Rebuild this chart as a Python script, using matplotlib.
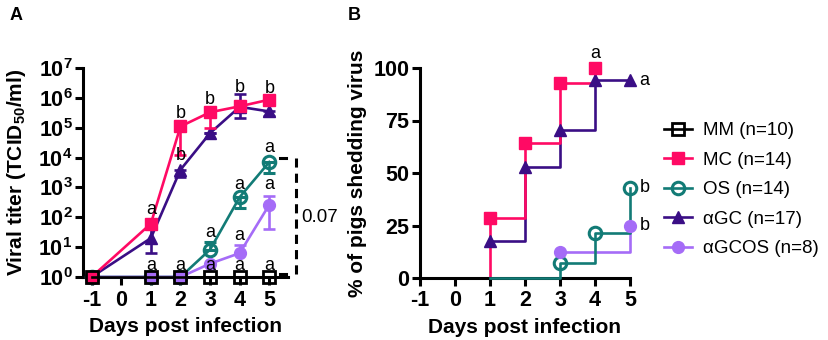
import matplotlib
matplotlib.use("Agg")
import matplotlib.pyplot as plt
from matplotlib.lines import Line2D
import numpy as np

plt.rcParams['font.family'] = ['Liberation Sans', 'DejaVu Sans']
plt.rcParams['mathtext.fontset'] = 'custom'
plt.rcParams['mathtext.rm'] = 'Liberation Sans'
plt.rcParams['mathtext.bf'] = 'Liberation Sans:bold'

# ---------------- data: panel A (viral titer) ----------------
days_a = [-1, 1, 2, 3, 4, 5]
mm_titer = [1, 1, 1, 1, 1, 1]
mc_titer = [1, 61, 1.1e5, 3.3e5, 5.2e5, 8.7e5]
mc_lo = [1, 61, 1.25e4, 1.0e5, 5.2e5, 8.7e5]
mc_hi = [1, 61, 1.1e5, 3.3e5, 5.2e5, 8.7e5]
agc_titer = [1, 20, 3900, 6.6e4, 5.0e5, 3.5e5]
agc_lo = [1, 6.3, 2300, 6.6e4, 2.1e5, 2.4e5]
agc_hi = [1, 40, 3900, 6.6e4, 1.35e6, 3.5e5]
os_titer = [1, 1, 1, 8.3, 475, 7100]
os_lo = [1, 1, 1, 8.3, 200, 3000]
os_hi = [1, 1, 1, 14.5, 475, 7100]
agcos_titer = [1, 1, 1, 2.8, 6.3, 265]
agcos_lo = [1, 1, 1, 2.8, 6.3, 40]
agcos_hi = [1, 1, 1, 2.8, 12, 520]

letters_a = ['a', 'b', 'b', 'b', 'b', 'b', 'a', 'a', 'a', 'a', 'a',
             'a', 'a', 'a', 'a', 'a']
letters_a_day = [1, 2, 2, 3, 4, 5, 3, 4, 4, 5, 5, 1, 2, 3, 4, 5]
letters_a_val = [180, 3.0e5, 1.2e4, 9.0e5, 2.2e6, 2.1e6, 30, 1300, 25, 2.2e4, 1300,
                 2.5, 2.5, 2.5, 2.5, 2.5]
p_value = '0.07'

# ---------------- data: panel B (% shedding) ----------------
mc_days_b = [0, 1, 2, 3, 4]
mc_pct = [0, 28.6, 64.3, 92.9, 100]
agc_days_b = [1, 2, 3, 4, 5]
agc_pct = [17.6, 52.9, 70.6, 94.1, 94.1]
os_days_b = [1, 3, 4, 5]
os_pct = [0, 7.1, 21.4, 42.9]
agcos_days_b = [3, 4, 5]
agcos_pct = [12.5, 12.5, 25]

letters_b = ['a', 'a', 'b', 'b']
letters_b_day = [4, 5, 5, 5]
letters_b_val = [107, 94.1, 42.9, 25]

labels = ['MM (n=10)', 'MC (n=14)', 'OS (n=14)', 'αGC (n=17)', 'αGCOS (n=8)']

# ---------------- style ----------------
C_MM = 'black'
C_MC = '#FF0A64'
C_OS = '#127B76'
C_AGC = '#3A0E85'
C_AGCOS = '#A56CF7'
LW = 1.9
SPW = 2.2
TICK_FS = 15.5
LABEL_FS = 15

fig = plt.figure(figsize=(8.29, 3.4), dpi=100)
axA = fig.add_axes([83/829, 63/340, 205/829, 209/340])
axB = fig.add_axes([420/829, 62/340, 210/829, 210/340])

for ax in (axA, axB):
    ax.spines['top'].set_visible(False)
    ax.spines['right'].set_visible(False)
    ax.spines['left'].set_linewidth(SPW)
    ax.spines['bottom'].set_linewidth(SPW)
    ax.tick_params(axis='both', which='major', length=6, width=SPW,
                   labelsize=TICK_FS, pad=1.5)
    ax.tick_params(axis='x', which='major', pad=3)
    ax.tick_params(axis='both', which='minor', length=0)


def yerr(v, lo, hi):
    v = np.array(v, float)
    return [v - np.array(lo, float), np.array(hi, float) - v]


# ---- Panel A ----
axA.set_yscale('log')
common = dict(lw=LW, capsize=4, elinewidth=LW, capthick=LW, clip_on=False)
axA.errorbar(days_a, os_titer, yerr=yerr(os_titer, os_lo, os_hi), color=C_OS,
             marker='o', ms=9, mfc='none', mew=2.2, zorder=3, **common)
axA.errorbar(days_a, agcos_titer, yerr=yerr(agcos_titer, agcos_lo, agcos_hi),
             color=C_AGCOS, marker='o', ms=8.5, zorder=3, **common)
axA.errorbar(days_a, agc_titer, yerr=yerr(agc_titer, agc_lo, agc_hi), color=C_AGC,
             marker='^', ms=8.5, zorder=4, **common)
axA.errorbar(days_a, mc_titer, yerr=yerr(mc_titer, mc_lo, mc_hi), color=C_MC,
             marker='s', ms=9, zorder=5, **common)
axA.plot(days_a, mm_titer, color=C_MM, lw=LW, marker='s', ms=9, mfc='none',
         mew=2.0, zorder=6, clip_on=False)

axA.set_ylim(1, 1e7)
axA.set_xlim(-1.29, 5.63)
axA.set_yticks([10.0**k for k in range(8)])
axA.set_yticklabels([r'$\mathbf{10^{%d}}$' % k for k in range(8)])
axA.set_xticks([-1, 0, 1, 2, 3, 4, 5])
axA.set_xticklabels(['-1', '0', '1', '2', '3', '4', '5'], fontweight='bold')
axA.set_xlabel('Days post infection', fontsize=LABEL_FS, fontweight='bold',
               labelpad=5)
axA.set_ylabel(r'Viral titer (TCID$_{\mathbf{50}}$/ml)', fontsize=LABEL_FS,
               fontweight='bold', labelpad=7)

for t, d, v in zip(letters_a, letters_a_day, letters_a_val):
    axA.text(d, v, t, ha='center', va='center', fontsize=13, zorder=7)

# significance bracket
axA.plot([5.9, 5.9], [1.26, 9500], color='black', lw=SPW, ls=(0, (3, 2)),
         clip_on=False)
axA.plot([5.36, 5.56], [9500, 9500], color='black', lw=SPW, clip_on=False)
axA.plot([5.36, 5.56], [1.26, 1.26], color='black', lw=SPW, clip_on=False)
axA.text(6.07, 100, p_value, ha='left', va='center', fontsize=13.5)

# ---- Panel B ----
axB.plot(os_days_b, os_pct, drawstyle='steps-post', color=C_OS, lw=LW, zorder=3,
         clip_on=False)
axB.plot(os_days_b[1:], os_pct[1:], ls='none', marker='o', ms=9, mfc='none',
         mec=C_OS, mew=2.2, zorder=4, clip_on=False)
axB.plot(agcos_days_b, agcos_pct, drawstyle='steps-post', color=C_AGCOS, lw=LW,
         zorder=2, clip_on=False)
axB.plot([agcos_days_b[0], agcos_days_b[-1]], [agcos_pct[0], agcos_pct[-1]],
         ls='none', marker='o', ms=8.5, color=C_AGCOS, zorder=4, clip_on=False)
axB.plot(agc_days_b, agc_pct, drawstyle='steps-post', color=C_AGC, lw=LW, zorder=2,
         clip_on=False)
axB.plot(agc_days_b, agc_pct, ls='none', marker='^', ms=8.5, color=C_AGC,
         zorder=4, clip_on=False)
axB.plot(mc_days_b, mc_pct, drawstyle='steps-post', color=C_MC, lw=LW, zorder=2.5,
         clip_on=False)
axB.plot(mc_days_b[1:], mc_pct[1:], ls='none', marker='s', ms=9, color=C_MC,
         zorder=5, clip_on=False)

axB.set_xlim(-1, 5)
axB.set_ylim(0, 100)
axB.set_xticks([-1, 0, 1, 2, 3, 4, 5])
axB.set_xticklabels(['-1', '0', '1', '2', '3', '4', '5'], fontweight='bold')
axB.set_yticks([0, 25, 50, 75, 100])
axB.set_yticklabels(['0', '25', '50', '75', '100'], fontweight='bold')
axB.set_xlabel('Days post infection', fontsize=LABEL_FS, fontweight='bold',
               labelpad=5)
axB.set_ylabel('% of pigs shedding virus', fontsize=LABEL_FS, fontweight='bold',
               labelpad=5)

axB.text(letters_b_day[0], letters_b_val[0], letters_b[0], ha='center',
         va='center', fontsize=13)
for t, d, v in zip(letters_b[1:], letters_b_day[1:], letters_b_val[1:]):
    axB.text(d + 0.27, v, t, ha='left', va='center', fontsize=13)

handles = [
    Line2D([], [], color=C_MM, lw=LW, marker='s', ms=9, mfc='none', mew=2.0),
    Line2D([], [], color=C_MC, lw=LW, marker='s', ms=9),
    Line2D([], [], color=C_OS, lw=LW, marker='o', ms=9, mfc='none', mew=2.2),
    Line2D([], [], color=C_AGC, lw=LW, marker='^', ms=8.5),
    Line2D([], [], color=C_AGCOS, lw=LW, marker='o', ms=8.5),
]
fig.legend(handles, labels, loc='upper left', bbox_to_anchor=(664/829, 1 - 122/340),
           frameon=False, fontsize=13.5, handlelength=1.5, handletextpad=0.6,
           labelspacing=0.66, borderaxespad=0, borderpad=0)

fig.text(10/829, 1 - 16/340, 'A', fontsize=13, fontweight='bold', va='center')
fig.text(348/829, 1 - 16/340, 'B', fontsize=13, fontweight='bold', va='center')

fig.savefig('out.png', dpi=100)
